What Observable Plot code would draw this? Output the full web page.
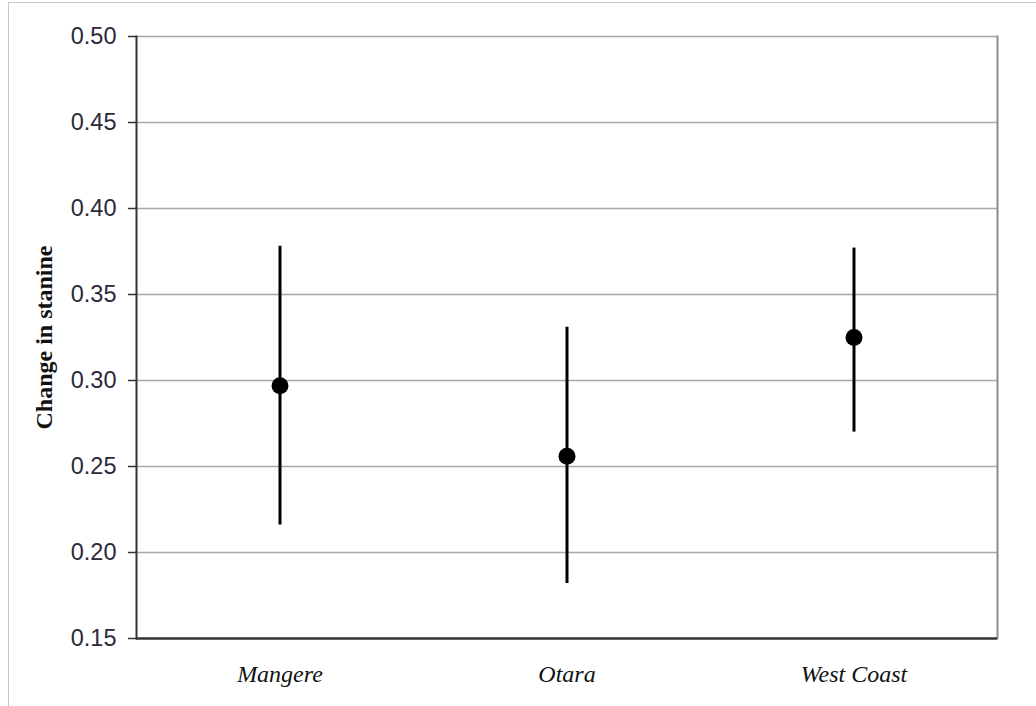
<!DOCTYPE html>
<html>
<head>
<meta charset="utf-8">
<script src="https://cdn.jsdelivr.net/npm/d3@7"></script>
<script src="https://cdn.jsdelivr.net/npm/@observablehq/plot@0.6"></script>
<style>
  html, body { margin: 0; padding: 0; background: #fff; overflow: hidden; }
  #wrap { position: relative; width: 1036px; height: 706px; }
  #border { position: absolute; left: 8px; top: 2px; width: 1100px; height: 800px;
            border-left: 1.5px solid #c8c8c8; border-top: 1.5px solid #c8c8c8; pointer-events: none; }
  #chart { position: absolute; left: 0; top: 0; }
</style>
</head>
<body>
<div id="wrap"><div id="border"></div><div id="chart"></div></div>
<script>
const regions = ["Mangere", "Otara", "West Coast"];
const means = [0.297, 0.256, 0.325];
const lows = [0.216, 0.182, 0.270];
const highs = [0.378, 0.331, 0.377];
const yTicks = [0.15, 0.20, 0.25, 0.30, 0.35, 0.40, 0.45, 0.50];
const gridTicks = [0.20, 0.25, 0.30, 0.35, 0.40, 0.45, 0.50];
const yLabel = "Change in stanine";

const data = regions.map((r, i) => ({region: r, mean: means[i], low: lows[i], high: highs[i]}));

const chart = Plot.plot({
  width: 1036,
  height: 706,
  marginLeft: 136,
  marginRight: 39,
  marginTop: 36,
  marginBottom: 68,
  style: {background: "transparent", overflow: "visible"},
  x: {type: "band", domain: regions, padding: 0, label: null},
  y: {domain: [0.15, 0.50], label: null},
  marks: [
    Plot.ruleY(gridTicks, {stroke: "#a8a8a8", strokeWidth: 1.5}),
    Plot.frame({anchor: "right", stroke: "#8c8c8c", strokeWidth: 2}),
    Plot.axisY({ticks: yTicks, tickFormat: d3.format(".2f"), tickSize: 8, tickPadding: 12,
      fontSize: 23.5, fontFamily: "Liberation Sans, Arial, sans-serif", fill: "#2a2a3a", stroke: "#333", strokeWidth: 1.5, label: null}),
    Plot.axisX({tickSize: 0, tickPadding: 26, fontSize: 24, fontStyle: "italic",
      fontFamily: "Liberation Serif, Times New Roman, serif", fill: "#111", label: null}),
    Plot.frame({anchor: "left", stroke: "#333", strokeWidth: 2}),
    Plot.ruleY([0.15], {stroke: "#333", strokeWidth: 2.5}),
    Plot.ruleX(data, {x: "region", y1: "low", y2: "high", stroke: "#000", strokeWidth: 3}),
    Plot.dot(data, {x: "region", y: "mean", r: 8.5, fill: "#000", stroke: "none"}),
    Plot.text([yLabel], {frameAnchor: "left", textAnchor: "middle", dx: -92, rotate: -90, fontSize: 24, fontWeight: "bold",
      fontFamily: "Liberation Serif, Times New Roman, serif", fill: "#111"})
  ]
});
document.getElementById("chart").appendChild(chart);
</script>
</body>
</html>
